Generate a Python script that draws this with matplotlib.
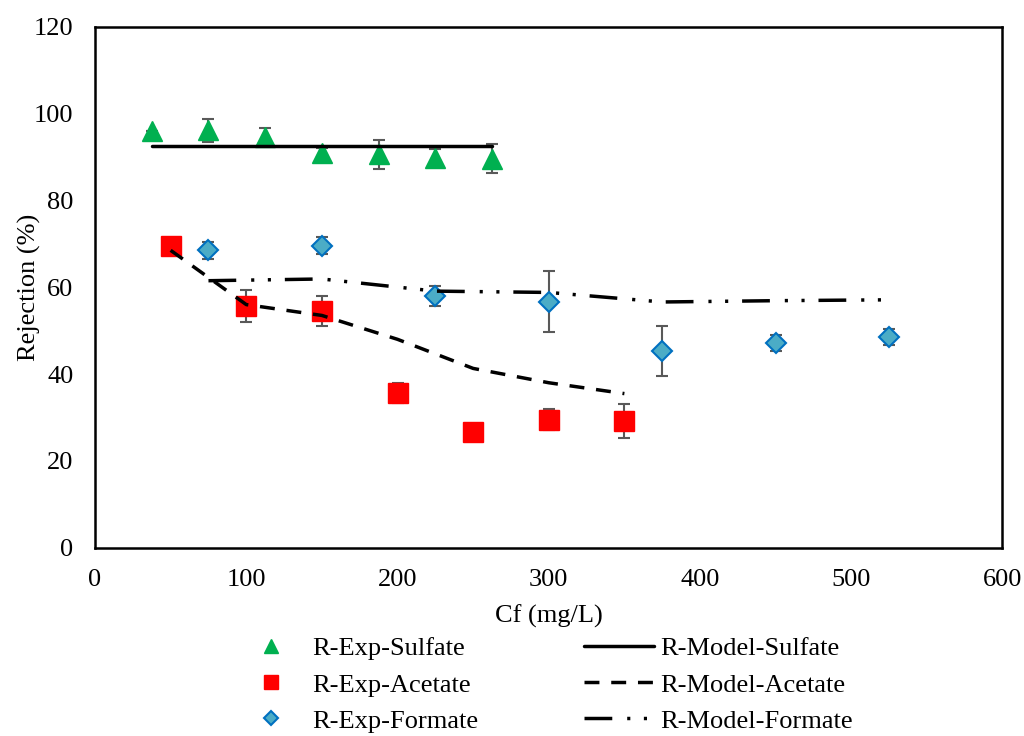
import matplotlib
matplotlib.use('Agg')
import matplotlib.pyplot as plt

plt.rcParams['font.family'] = ['Liberation Serif', 'DejaVu Serif']

# 実験値と誤差 (Sulfate)
sulfate_cf = [37.5, 75, 112.5, 150, 187.5, 225, 262.5]
sulfate_exp = [96.0, 96.1, 94.7, 91.0, 90.6, 89.7, 89.6]
sulfate_err = [0.0, 2.75, 2.0, 1.0, 3.3, 2.1, 3.4]
sulfate_model = [92.5, 92.5, 92.5, 92.5, 92.5, 92.5, 92.5]

# Acetate
acetate_cf = [50, 100, 150, 200, 250, 300, 350]
acetate_exp = [69.4, 55.7, 54.5, 35.7, 26.7, 29.5, 29.2]
acetate_err = [0.0, 3.6, 3.5, 2.3, 0.0, 2.4, 3.9]
acetate_model = [68.5, 56.0, 53.5, 48.0, 41.3, 38.0, 35.5]

# Formate
formate_cf = [75, 150, 225, 300, 375, 450, 525]
formate_exp = [68.5, 69.6, 58.0, 56.7, 45.3, 47.2, 48.6]
formate_err = [2.0, 2.0, 2.3, 7.1, 5.7, 1.9, 1.8]
formate_model = [61.5, 61.9, 59.1, 58.8, 56.6, 56.9, 57.1]

x_ticks = [0, 100, 200, 300, 400, 500, 600]
y_ticks = [0, 20, 40, 60, 80, 100, 120]

fig = plt.figure(figsize=(10.24, 7.36), dpi=100)
ax = fig.add_axes([0.0928, 0.2558, 0.8862, 0.7079])

err_kw = dict(fmt='none', ecolor='#595959', elinewidth=1.5, capsize=4.3, capthick=1.5, zorder=2)
ax.errorbar(sulfate_cf, sulfate_exp, yerr=sulfate_err, **err_kw)
ax.errorbar(acetate_cf, acetate_exp, yerr=acetate_err, **err_kw)
ax.errorbar(formate_cf, formate_exp, yerr=formate_err, **err_kw)

# 実験値のマーカー
h1, = ax.plot(sulfate_cf, sulfate_exp, linestyle='none', marker='^', ms=14,
              color='#00B050', mec='#00B050', zorder=3, label='R-Exp-Sulfate')
h2, = ax.plot(acetate_cf, acetate_exp, linestyle='none', marker='s', ms=14,
              color='#FF0000', mec='#FF0000', zorder=3, label='R-Exp-Acetate')
h3, = ax.plot(formate_cf, formate_exp, linestyle='none', marker='D', ms=10,
              color='#4BACC6', mec='#0070C0', mew=1.5, zorder=3, label='R-Exp-Formate')

# モデルの線
m1, = ax.plot(sulfate_cf, sulfate_model, color='black', lw=2.5, zorder=4,
              solid_capstyle='round', label='R-Model-Sulfate')
m2, = ax.plot(acetate_cf, acetate_model, color='black', lw=2.5, zorder=4,
              dashes=(4.3, 3.4), dash_capstyle='butt', label='R-Model-Acetate')
m3, = ax.plot(formate_cf, formate_model, color='black', lw=2.5, zorder=4,
              dashes=(8, 4.3, 0.9, 3.9, 0.9, 4.0), dash_capstyle='butt',
              label='R-Model-Formate')

ax.set_xlim(0, 600)
ax.set_ylim(0, 120)
ax.set_xticks(x_ticks)
ax.set_yticks(y_ticks)
ax.tick_params(axis='both', length=0, labelsize=19)
ax.tick_params(axis='x', pad=15)
ax.tick_params(axis='y', pad=15.5)
for s in ax.spines.values():
    s.set_linewidth(1.8)
    s.set_color('black')

ax.set_xlabel('Cf (mg/L)', fontsize=19, labelpad=10)
ax.set_ylabel('Rejection (%)', fontsize=19)
ax.yaxis.set_label_coords(-0.0595, 0.5)

# 凡例（図の下に2列）
fig.legend(handles=[h1, h2, h3, m1, m2, m3], ncol=2, frameon=False, fontsize=19,
           loc='upper left', bbox_to_anchor=(0.2178, 0.1525), borderpad=0,
           handlelength=2.64, handletextpad=0.25, columnspacing=4.0,
           labelspacing=0.48, markerscale=0.75)

fig.savefig('out.png', dpi=100)
